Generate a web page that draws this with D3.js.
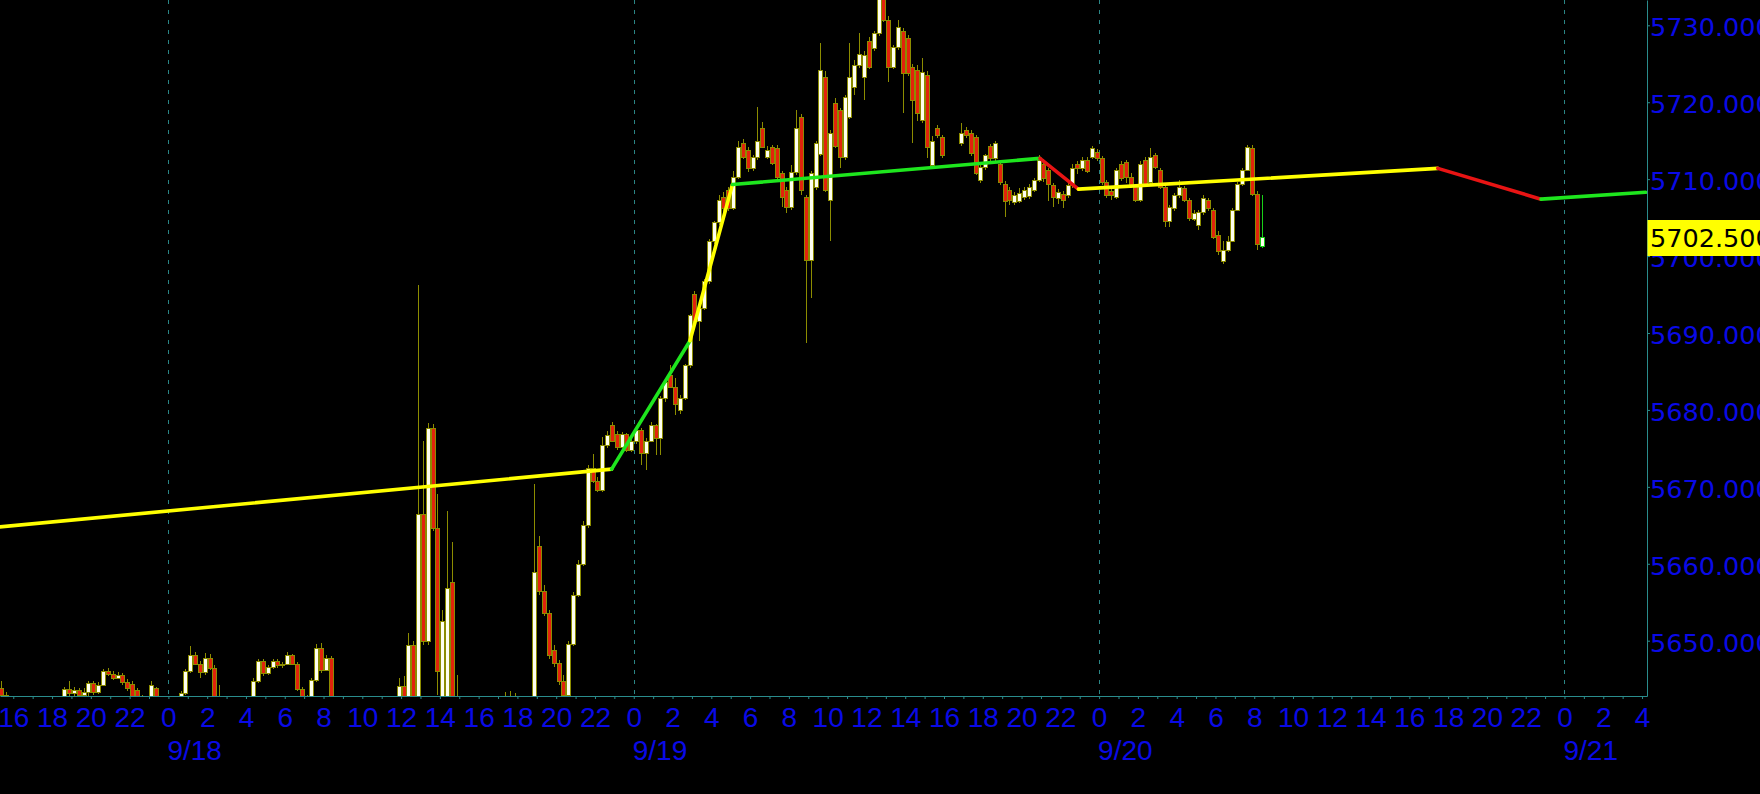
<!DOCTYPE html>
<html><head><meta charset="utf-8">
<script src="https://cdn.jsdelivr.net/npm/d3@7"></script>
<style>html,body{margin:0;padding:0;background:#000;overflow:hidden}</style>
</head><body>
<svg id="c" width="1760" height="794" style="display:block;background:#000"></svg>
<script>
// ---------- DATA ----------
// 15-minute bars; first bar starts 9/17 15:15 (hours relative to 9/18 00:00)
const barStart = -8.75;
const barHours = 0.25;
const opens = [
5643.8,5643.0,5642.0,5641.2,5640.4,5639.6,5640.2,5640.8,5641.0,5640.6,5641.2,5641.5,5641.3,5641.6,5643.7,5643.2,5643.6,5643.0,5643.3,5644.5,
5643.3,5644.3,5646.0,5645.7,5645.2,5645.6,5644.6,5644.4,5643.6,5642.2,5641.5,5641.2,5643.8,5642.4,5641.5,5641.2,5641.0,5641.8,5643.2,5646.0,
5648.2,5647.0,5645.9,5647.8,5646.5,5642.8,5641.5,5641.0,5640.8,5641.2,5641.5,5642.0,5642.5,5644.8,5647.3,5645.8,5646.6,5647.3,5646.8,5647.0,
5648.1,5647.0,5643.7,5642.0,5642.4,5644.9,5649.0,5646.2,5647.8,5641.5,5640.0,5639.5,5640.0,5639.8,5639.2,5639.6,5640.4,5640.2,5640.6,5641.0,
5640.8,5641.2,5641.8,5644.1,5642.0,5649.4,5642.0,5666.5,5650.0,5677.7,5664.7,5642.5,5642.5,5657.6,5642.5,5641.0,5640.2,5639.5,5639.8,5640.4,
5640.0,5640.5,5641.0,5641.4,5641.8,5642.2,5641.9,5641.5,5641.0,5640.8,5641.6,5662.3,5656.5,5653.6,5648.8,5647.1,5644.8,5643.0,5649.6,5656.0,
5660.0,5665.0,5672.4,5670.8,5669.6,5675.4,5678.0,5676.9,5675.2,5676.9,5674.8,5676.0,5677.4,5674.4,5676.0,5678.0,5676.4,5681.5,5684.5,5683.0,
5680.0,5681.6,5685.8,5695.1,5691.6,5693.3,5696.8,5702.0,5704.4,5707.7,5708.6,5706.2,5710.3,5714.7,5713.8,5711.4,5712.9,5716.6,5712.9,5714.2,
5714.0,5710.8,5708.6,5706.4,5710.9,5718.1,5707.7,5699.5,5709.0,5713.3,5723.3,5707.3,5719.9,5719.0,5712.9,5718.1,5722.0,5724.8,5723.3,5728.0,
5727.0,5729.0,5735.0,5730.7,5724.6,5727.2,5729.2,5728.3,5724.6,5724.2,5717.7,5723.5,5711.8,5716.6,5715.5,null,null,null,5714.7,5716.4,
5716.0,5715.5,5709.9,5711.6,5714.3,5712.8,5712.0,5709.4,5708.6,5707.0,5707.2,5707.7,5707.8,5708.6,5709.9,5712.0,5711.2,5709.2,5707.5,5708.1,
5707.9,5709.2,5712.0,5711.4,5712.5,5712.9,5713.5,5712.7,5709.6,5708.5,5707.7,5712.0,5712.2,5710.3,5709.0,5707.3,5712.5,5709.6,5713.1,5711.2,
5709.0,5704.6,5706.2,5707.9,5708.8,5707.3,5704.8,5704.0,5705.7,5707.3,5706.0,5702.8,5699.3,5700.8,5702.0,5706.0,5709.4,5711.2,5714.0,5708.1,
5701.3];
const highs = [
5644.8,5643.3,5642.4,5641.8,5641.0,5640.6,5641.2,5641.6,5641.9,5641.4,5642.0,5642.3,5642.2,5644.0,5644.8,5644.0,5643.9,5643.8,5644.8,5644.7,
5644.6,5646.3,5646.4,5646.0,5645.9,5645.8,5645.0,5644.7,5643.8,5643.0,5642.3,5644.8,5644.0,5642.6,5642.3,5642.0,5642.2,5643.5,5646.3,5649.3,
5648.5,5647.3,5648.4,5648.3,5646.8,5644.2,5642.3,5642.0,5642.0,5642.2,5642.4,5642.8,5645.2,5647.6,5647.6,5646.9,5647.6,5647.6,5647.2,5648.5,
5648.3,5647.2,5644.0,5643.0,5645.2,5649.6,5649.7,5648.2,5648.0,5642.0,5641.0,5640.5,5641.0,5640.6,5640.2,5640.8,5641.2,5641.0,5641.5,5641.8,
5641.6,5642.2,5645.2,5645.4,5651.0,5650.0,5696.2,5676.0,5678.3,5678.2,5669.1,5654.0,5666.9,5662.8,5645.5,5641.8,5641.0,5640.4,5640.8,5641.2,
5640.9,5641.4,5641.9,5642.3,5643.3,5643.5,5643.2,5642.3,5641.9,5642.0,5670.4,5663.6,5657.2,5654.0,5649.4,5647.5,5645.6,5650.0,5656.3,5660.5,
5665.6,5672.8,5674.3,5671.3,5676.5,5677.2,5678.4,5677.2,5677.1,5677.0,5676.2,5677.8,5677.6,5676.4,5678.4,5678.2,5681.8,5684.0,5685.8,5684.2,
5682.0,5686.0,5692.5,5695.5,5693.5,5697.0,5702.2,5704.6,5708.0,5708.3,5709.0,5711.0,5714.9,5715.2,5714.2,5713.2,5719.4,5717.4,5714.3,5714.5,
5714.4,5711.0,5709.0,5711.8,5719.0,5718.5,5708.0,5711.0,5715.0,5727.7,5724.0,5716.4,5720.6,5719.3,5721.0,5727.7,5725.5,5729.0,5726.6,5728.5,
5729.2,5735.0,5736.0,5731.2,5727.5,5730.7,5729.6,5728.8,5725.0,5724.8,5725.7,5724.0,5715.6,5717.0,5715.8,null,null,null,5717.3,5716.8,
5716.4,5715.8,5711.8,5713.3,5714.6,5715.0,5712.5,5709.8,5709.0,5708.3,5708.8,5709.0,5709.4,5710.2,5713.2,5712.6,5711.5,5709.5,5708.7,5708.5,
5709.5,5712.0,5712.3,5712.9,5712.9,5714.3,5713.9,5713.0,5709.9,5708.8,5711.5,5712.4,5712.5,5710.8,5709.3,5712.3,5712.9,5714.0,5713.4,5711.5,
5709.2,5706.7,5708.2,5709.9,5709.1,5707.5,5706.0,5706.0,5707.9,5707.6,5706.3,5703.2,5702.0,5702.6,5706.3,5709.6,5711.5,5714.5,5714.4,5708.4,
5707.9];
const lows = [
5642.0,5641.0,5640.5,5639.8,5639.2,5638.8,5639.6,5640.0,5640.2,5639.8,5640.6,5640.8,5640.7,5641.2,5642.8,5642.8,5642.6,5642.5,5642.8,5642.9,
5643.1,5644.1,5645.4,5644.9,5645.0,5644.3,5643.5,5642.0,5641.5,5641.0,5640.4,5641.0,5642.0,5641.0,5640.8,5640.5,5640.5,5641.5,5643.0,5645.8,
5646.8,5645.2,5645.6,5646.2,5642.0,5641.0,5640.5,5640.2,5640.0,5640.6,5641.0,5641.5,5642.2,5644.5,5645.4,5645.5,5646.3,5646.5,5646.4,5646.8,
5646.8,5643.4,5641.5,5641.2,5642.2,5644.6,5645.8,5646.0,5641.0,5639.5,5639.0,5638.5,5639.2,5638.8,5638.5,5639.0,5639.8,5639.5,5640.0,5640.2,
5640.0,5640.6,5641.5,5641.5,5641.8,5641.0,5641.5,5649.5,5649.5,5664.2,5643.0,5642.0,5642.0,5641.5,5640.5,5639.5,5639.0,5638.6,5639.0,5639.6,
5639.2,5639.8,5640.3,5640.8,5641.2,5641.5,5641.0,5640.6,5640.2,5640.4,5641.2,5656.0,5653.2,5647.6,5646.6,5644.2,5642.0,5642.5,5649.3,5655.7,
5659.7,5664.7,5670.5,5669.3,5669.3,5675.0,5675.8,5674.8,5675.0,5674.5,5674.5,5675.6,5672.8,5672.2,5675.8,5674.2,5674.2,5681.0,5682.8,5679.3,
5679.5,5681.3,5685.4,5690.8,5689.0,5693.0,5696.4,5701.6,5704.0,5705.6,5705.8,5706.0,5710.0,5712.6,5710.9,5711.0,5712.5,5714.0,5712.6,5711.8,
5710.0,5706.4,5705.6,5706.0,5710.5,5708.0,5688.7,5694.6,5708.6,5713.0,5708.3,5702.0,5714.0,5711.5,5712.5,5717.8,5721.0,5724.5,5720.3,5724.3,
5726.6,5728.6,5730.4,5722.6,5724.3,5726.8,5718.6,5723.4,5714.7,5717.5,5717.3,5712.8,5711.5,5715.3,5712.8,null,null,null,5714.3,5715.4,
5713.0,5710.6,5709.5,5711.2,5712.4,5712.4,5709.2,5705.1,5706.6,5706.6,5706.9,5707.3,5707.4,5708.3,5709.6,5709.6,5707.2,5706.4,5706.8,5706.2,
5707.6,5708.9,5710.7,5711.0,5710.8,5712.6,5712.4,5709.3,5707.6,5707.3,5707.4,5709.8,5709.5,5708.9,5707.0,5707.0,5709.0,5709.3,5711.3,5708.7,
5703.8,5703.8,5705.9,5707.6,5707.0,5704.6,5704.5,5703.4,5705.4,5705.8,5702.2,5700.2,5699.0,5700.5,5701.8,5705.8,5709.1,5711.0,5707.8,5700.8,
5701.0];
const closes = [
5643.0,5642.0,5641.2,5640.4,5639.6,5640.2,5640.8,5641.0,5640.6,5641.2,5641.5,5641.3,5641.6,5643.7,5643.2,5643.6,5643.0,5643.3,5644.5,5643.3,
5644.3,5646.0,5645.7,5645.2,5645.6,5644.6,5643.8,5642.6,5642.2,5641.5,5641.2,5644.2,5642.4,5641.5,5641.2,5641.0,5641.8,5643.2,5646.0,5648.2,
5647.0,5645.9,5647.8,5646.5,5642.8,5641.5,5641.0,5640.8,5641.2,5641.5,5642.0,5642.5,5644.8,5647.3,5645.8,5646.6,5647.3,5646.8,5647.0,5648.1,
5647.0,5643.7,5642.0,5642.4,5644.9,5649.0,5646.2,5647.8,5641.5,5640.0,5639.5,5640.0,5639.8,5639.2,5639.6,5640.4,5640.2,5640.6,5641.0,5640.8,
5641.2,5641.8,5644.1,5642.0,5649.4,5642.0,5666.5,5650.0,5677.7,5664.7,5646.0,5652.6,5656.9,5642.5,5641.0,5640.2,5639.5,5639.8,5640.4,5640.0,
5640.5,5641.0,5641.4,5641.8,5642.2,5641.9,5641.5,5641.0,5640.8,5641.6,5658.9,5656.5,5653.6,5648.2,5647.1,5644.8,5643.0,5649.6,5656.0,5660.0,
5665.0,5672.4,5670.8,5669.6,5675.4,5676.8,5676.0,5675.2,5676.9,5674.8,5676.0,5677.4,5674.4,5676.0,5678.0,5676.4,5681.5,5683.6,5683.0,5680.8,
5681.6,5685.8,5692.3,5691.6,5693.3,5696.8,5702.0,5704.4,5707.3,5706.2,5706.2,5710.3,5714.2,5712.9,5711.4,5712.9,5715.0,5714.2,5713.8,5712.1,
5710.3,5707.7,5706.4,5710.9,5716.6,5708.6,5699.5,5710.8,5714.7,5724.2,5708.6,5716.0,5714.3,5712.9,5720.7,5723.3,5724.8,5726.3,5726.1,5724.6,
5729.0,5733.5,5730.7,5724.6,5727.2,5729.8,5723.8,5723.8,5720.3,5718.6,5723.9,5714.2,5715.0,5715.7,5713.1,null,null,null,5716.0,5715.7,
5713.4,5710.8,5711.6,5713.1,5712.8,5714.7,5709.6,5707.2,5707.3,5707.9,5708.2,5708.6,5709.0,5709.9,5712.5,5710.1,5709.4,5707.7,5708.3,5707.3,
5709.2,5711.4,5711.4,5712.5,5711.0,5714.0,5712.7,5709.6,5708.0,5707.9,5711.2,5710.1,5710.3,5709.2,5707.3,5712.0,5709.4,5712.9,5711.6,5709.0,
5704.6,5706.4,5707.9,5709.0,5707.3,5705.0,5705.6,5705.7,5707.5,5706.3,5702.5,5700.6,5700.8,5702.0,5706.0,5709.4,5711.2,5714.2,5708.1,5701.6,
5702.5];
const lastPrice = 5702.5;

// trend indicator vertices (hours relative to 9/18 00:00) and segment colours
const trendTimes  = [-8.7, 22.86, 26.90, 29.09, 44.95, 46.93, 65.47, 70.79, 76.18];
const trendValues = [5664.8, 5672.3, 5689.0, 5709.3, 5712.7, 5708.7, 5711.4, 5707.4, 5708.3];
const trendColors = ["#ffff00","#1ee61e","#ffff00","#1ee61e","#e81414","#ffff00","#e81414","#1ee61e"];

// axis ticks
const yTicks = [5650, 5660, 5670, 5680, 5690, 5700, 5710, 5720, 5730];
const hourTicks = d3.range(-8, 77, 1);
const dateLabels = ["9/18", "9/19", "9/20", "9/21"];
const dateTimes = [0, 24, 48, 72];

// ---------- LAYOUT ----------
const W = 1760, H = 794;
const plotR = 1647, plotB = 696;
const midPx = 168.4, pxPerHour = 19.39;
const axisColor = "#2a8c8c", gridColor = "#2a8585", textBlue = "#0a0ae6";
const olive = "#8c8c00", upFill = "#fffff0", downFill = "#e2230c", liveColor = "#18d018";
const xFont = "Liberation Sans, Arial, sans-serif";
const yFont = "DejaVu Sans, Verdana, sans-serif";

const x = d3.scaleLinear().domain([-midPx / pxPerHour, (plotR - midPx) / pxPerHour]).range([0, plotR]);
const y = d3.scaleLinear().domain([5650, 5730]).range([640.7, 25.3]);
const yAxisScale = y.copy().domain([y.invert(plotB), y.invert(0)]).range([plotB, 0]);

const svg = d3.select("#c");
svg.append("defs").append("clipPath").attr("id", "plot")
  .append("rect").attr("x", 0).attr("y", 0).attr("width", plotR).attr("height", plotB);

// grid
svg.append("g").selectAll("line").data(dateTimes).join("line")
  .attr("x1", d => Math.round(x(d)) + 0.5).attr("x2", d => Math.round(x(d)) + 0.5)
  .attr("y1", 0).attr("y2", plotB)
  .attr("stroke", gridColor).attr("stroke-width", 1).attr("stroke-dasharray", "4,6");

// candles
const bars = d3.range(opens.length).filter(i => opens[i] !== null).map(i => ({
  i, t: barStart + i * barHours, o: opens[i], h: highs[i], l: lows[i], c: closes[i]
}));
const cg = svg.append("g").attr("clip-path", "url(#plot)").attr("shape-rendering", "crispEdges");
const bg = cg.selectAll("g").data(bars).join("g");
bg.each(function(d) {
  const g = d3.select(this);
  const live = d.i === opens.length - 1;
  const cx = Math.round(x(d.t + barHours / 2));
  const line = live ? liveColor : olive;
  const yh = Math.round(y(d.h)), yl = Math.round(y(d.l));
  g.append("rect").attr("x", cx).attr("y", yh).attr("width", 1).attr("height", Math.max(1, yl - yh)).attr("fill", line);
  const yt = Math.round(y(Math.max(d.o, d.c))), yb = Math.round(y(Math.min(d.o, d.c)));
  const hgt = Math.max(2, yb - yt + 1);
  g.append("rect").attr("x", cx - 2).attr("y", yt).attr("width", 5).attr("height", hgt).attr("fill", line);
  if (hgt > 2) {
    g.append("rect").attr("x", cx - 1).attr("y", yt + 1).attr("width", 3).attr("height", hgt - 2)
      .attr("fill", d.c >= d.o ? upFill : downFill);
  }
});

// trend line
const segs = d3.range(trendColors.length).map(j => ({
  x1: x(trendTimes[j]), y1: y(trendValues[j]), x2: x(trendTimes[j + 1]), y2: y(trendValues[j + 1]), col: trendColors[j]
}));
svg.append("g").attr("clip-path", "url(#plot)").selectAll("line").data(segs).join("line")
  .attr("x1", d => d.x1).attr("y1", d => d.y1).attr("x2", d => d.x2).attr("y2", d => d.y2)
  .attr("stroke", d => d.col).attr("stroke-width", 3.6).attr("stroke-linecap", "round");

// x axis
const hourLabel = t => (t % 2 === 0) ? String(((t % 24) + 24) % 24) : "";
const xa = svg.append("g").attr("transform", `translate(0,${plotB})`)
  .call(d3.axisBottom(x).tickValues(hourTicks).tickSize(3).tickSizeOuter(0).tickFormat(hourLabel));
xa.select(".domain").attr("stroke", axisColor);
xa.selectAll(".tick line").attr("stroke", axisColor);
xa.selectAll(".tick text").attr("fill", textBlue).attr("font-family", xFont)
  .attr("font-size", 28).attr("y", 31).attr("dy", 0);
svg.append("g").selectAll("text").data(dateTimes).join("text")
  .attr("x", d => x(d) - 1).attr("y", 760)
  .attr("fill", textBlue).attr("font-family", xFont).attr("font-size", 28)
  .text((d, k) => dateLabels[k]);

// y axis
const ya = svg.append("g").attr("transform", `translate(${plotR},0)`)
  .call(d3.axisRight(yAxisScale).tickValues(yTicks).tickSize(3).tickSizeOuter(0).tickFormat(d3.format(".3f")));
ya.select(".domain").attr("stroke", axisColor);
ya.selectAll(".tick line").attr("stroke", axisColor);
ya.selectAll(".tick text").attr("fill", textBlue).attr("font-family", yFont)
  .attr("font-size", 25.5).attr("x", 3).attr("dy", 0).attr("y", 10.4).attr("text-anchor", "start");

// last price box
const py = y(lastPrice);
svg.append("rect").attr("x", plotR + 0.5).attr("y", Math.round(py - 17)).attr("width", W - plotR).attr("height", 36)
  .attr("fill", "#ffff00");
svg.append("text").attr("x", plotR + 3).attr("y", py + 10.4)
  .attr("fill", "#000").attr("font-family", yFont).attr("font-size", 25.5)
  .text(d3.format(".3f")(lastPrice));
</script>
</body></html>
